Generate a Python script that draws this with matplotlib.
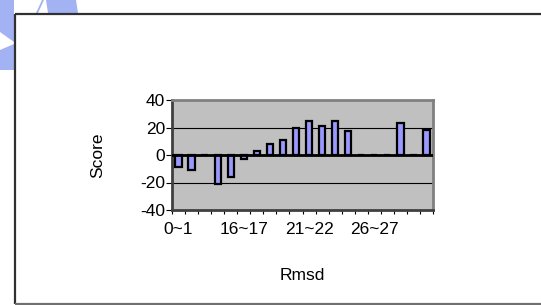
import matplotlib
matplotlib.use("Agg")
import matplotlib.pyplot as plt
from matplotlib.patches import Polygon, Rectangle
import numpy as np

plt.rcParams['font.family'] = ['Liberation Sans', 'DejaVu Sans']

categories = ["0~1", "12~13", "13~14", "14~15", "15~16", "16~17", "17~18", "18~19",
              "19~20", "20~21", "21~22", "22~23", "23~24", "24~25", "25~26", "26~27",
              "27~28", "28~29", "29~30", "30~31"]
scores = [-9, -11, 0, -21, -16, -3, 3, 8, 11, 19.5, 25, 21, 25, 17.5, 0, 0, 0, 23, 0, 18.5]
shown_labels = {0: "0~1", 5: "16~17", 10: "21~22", 15: "26~27"}
yticks = [-40, -20, 0, 20, 40]

W, H = 541, 305
fig = plt.figure(figsize=(W / 100, H / 100), dpi=100)

# background layer in pixel coordinates
bg = fig.add_axes([0, 0, 1, 1])
bg.set_xlim(0, W)
bg.set_ylim(H, 0)
bg.axis('off')
wm = '#a3b2f2'
bg.add_patch(Polygon([[0, 0], [14, 0], [14, 42], [0, 32]], closed=True, color=wm, lw=0))
bg.add_patch(Polygon([[0, 50], [14, 44], [14, 70], [0, 70]], closed=True, color=wm, lw=0))
bg.add_patch(Polygon([[46, 0], [76, 0], [78, 13], [48, 13]], closed=True, color=wm, lw=0))
bg.add_patch(Polygon([[38, 13], [44, 0], [42, 0], [36, 13]], closed=True, color=wm, lw=0))
bg.add_patch(Rectangle((15, 14), W, H, facecolor='white', edgecolor='none'))
bg.plot([15, 15], [14, 304], color='#303030', lw=1.6, solid_capstyle='butt')
bg.plot([15, W], [14, 14], color='#303030', lw=1.6, solid_capstyle='butt')
bg.plot([15, W], [304, 304], color='#707070', lw=1.6, solid_capstyle='butt')

ax = fig.add_axes([172/W, 1 - 210/H, (433-172)/W, (210-100)/H])
ax.set_facecolor('#c0c0c0')
x = np.arange(len(categories))
ax.bar(x, scores, width=0.48, color='#9999ff', edgecolor='black', linewidth=1.6, zorder=3)
for yv in (20, -20):
    ax.axhline(yv, color='black', lw=0.8, zorder=1)
ax.axhline(0, color='black', lw=2, zorder=4)
ax.set_xlim(-0.5, len(categories) - 0.5)
ax.set_ylim(-40, 40)
fs = 12.5
ax.set_yticks(yticks)
ax.set_yticklabels([str(v) for v in yticks], fontsize=fs)
ax.set_xticks(np.arange(len(categories) + 1) - 0.5, minor=True)
ax.set_xticks(list(shown_labels.keys()))
ax.set_xticklabels(list(shown_labels.values()), fontsize=fs)
ax.tick_params(axis='x', which='major', length=0, pad=9)
ax.tick_params(axis='x', which='minor', length=3, width=0.8, direction='out')
ax.tick_params(axis='y', length=4, width=0.8, pad=1)
for s in ax.spines.values():
    s.set_color('#808080')
    s.set_linewidth(2)
ax.spines['left'].set_color('#404040')
ax.spines['bottom'].set_color('#404040')
ax.set_ylabel('Score', fontsize=fs, labelpad=25)
ax.set_xlabel('Rmsd', fontsize=fs, labelpad=22)

fig.savefig('out.png', dpi=100)
